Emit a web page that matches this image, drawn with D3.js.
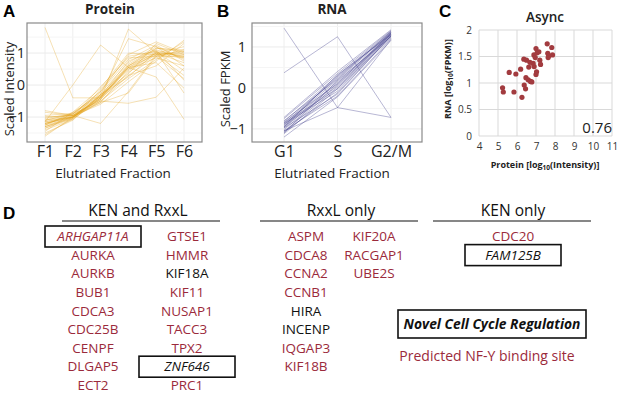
<!DOCTYPE html>
<html>
<head>
<meta charset="utf-8">
<script src="https://cdn.jsdelivr.net/npm/d3@7"></script>
<style>
  body { margin: 0; background: #fff; }
  svg { font-family: "Open Sans", sans-serif; }
</style>
</head>
<body>
<svg id="fig" width="617" height="393"></svg>
<script>
// ---- data ----
var fractions = ["F1", "F2", "F3", "F4", "F5", "F6"]
var proteinLines = [
  [-1.15, -1.00, -0.35, 0.50, 1.00, 0.95],
  [-1.25, -1.02, -0.40, 0.55, 1.05, 0.90],
  [-1.30, -0.98, -0.30, 0.60, 1.10, 0.85],
  [-1.20, -0.95, -0.45, 0.40, 0.95, 1.00],
  [-1.35, -1.05, -0.50, 0.30, 0.90, 1.10],
  [-1.10, -0.92, -0.25, 0.70, 1.20, 0.80],
  [-1.05, -0.90, -0.20, 0.80, 1.25, 0.75],
  [-0.95, -0.88, -0.35, 0.65, 1.15, 1.05],
  [-0.85, -0.95, -0.55, 0.45, 1.00, 1.20],
  [-1.40, -1.08, -0.40, 0.50, 0.85, 0.60],
  [-1.50, -1.10, -0.30, 0.35, 1.30, 0.95],
  [-1.55, -1.05, -0.15, 0.90, 1.05, 0.45],
  [-1.25, -0.85, -0.10, 1.00, 0.95, 0.30],
  [-1.20, -1.00, -0.50, 0.20, 0.80, 1.35],
  [-1.15, -0.97, -0.60, 0.10, 0.75, 1.40],
  [-1.30, -1.02, -0.35, 0.75, 1.10, 0.15],
  [-1.00, -0.95, -0.45, 0.55, 0.70, -0.10],
  [-1.10, -0.90, -0.20, 0.95, 1.35, 1.00],
  [-1.45, -0.85, -0.30, 0.25, 1.05, -0.25],
  [-1.20, -1.00, -0.05, 0.85, 0.90, 0.90],
  [-0.80, -0.95, -0.40, 0.60, 1.15, 1.10],
  [1.80, -0.40, -0.40, 0.60, 1.00, 0.70],
  [-1.15, 0.00, 1.25, 0.55, 0.95, 0.85],
  [-1.00, -0.95, -1.20, -0.20, 0.95, 1.05],
  [-1.20, -1.00, -0.45, 1.75, 1.00, 0.90],
  [-1.30, -1.05, -0.30, 1.45, 1.20, 0.60],
  [-1.25, -0.90, -0.50, -0.57, -0.38, 0.53],
  [-1.10, -1.00, -0.35, 0.55, 0.25, -1.07],
  [-1.35, -1.00, -0.55, -0.25, 0.90, 0.20],
  [-1.60, -1.00, -0.40, 0.30, 0.60, 1.30]
]
var phases = ["G1", "S", "G2/M"]
var rnaLines = [
  [-0.75, 0.35, 1.40], [-0.82, 0.30, 1.38], [-0.86, 0.25, 1.36],
  [-0.90, 0.20, 1.34], [-0.94, 0.15, 1.31], [-0.98, 0.12, 1.29],
  [-1.02, 0.08, 1.27], [-1.06, 0.02, 1.25], [-1.12, -0.02, 1.22],
  [-0.72, 0.40, 1.42], [-0.88, -0.08, 1.31], [-0.98, -0.15, 1.27],
  [-1.05, -0.20, 1.20], [-0.84, 0.10, 1.34], [-0.92, 0.28, 1.33],
  [-0.96, 0.32, 1.30], [-1.10, 0.18, 1.25], [-0.86, -0.02, 1.36],
  [-0.95, 0.05, 1.31], [-0.80, 0.22, 1.38], [-1.08, -0.12, 1.27],
  [-1.20, -0.22, 1.16],
  [1.46, -0.48, -0.72],
  [0.37, 1.25, -0.72],
  [-1.05, -0.48, 1.18]
]
var proteinLog = [5.24, 5.28, 5.59, 5.84, 5.94, 6.19, 6.26, 6.36, 6.50, 6.38, 6.45, 6.47,
  6.59, 6.62, 6.71, 6.68, 6.85, 6.78, 6.89, 6.90, 6.96, 7.00, 7.06, 7.00, 7.03, 7.15,
  7.20, 7.24, 7.59, 7.62, 7.66, 7.64, 7.83, 7.87]
var rnaLog = [0.91, 0.83, 1.20, 0.83, 1.17, 1.26, 0.73, 1.45, 1.43, 0.96, 0.89, 1.10,
  1.06, 1.30, 1.03, 1.39, 1.37, 1.02, 1.53, 1.31, 1.48, 1.65, 1.57, 1.16, 1.21, 1.59,
  1.43, 1.35, 1.74, 1.56, 1.51, 1.48, 1.67, 1.53]
var correlation = "0.76"
var groupTitles = ["KEN and RxxL", "RxxL only", "KEN only"]
var geneColumns = [
  ["ARHGAP11A", "AURKA", "AURKB", "BUB1", "CDCA3", "CDC25B", "CENPF", "DLGAP5", "ECT2"],
  ["GTSE1", "HMMR", "KIF18A", "KIF11", "NUSAP1", "TACC3", "TPX2", "ZNF646", "PRC1"],
  ["ASPM", "CDCA8", "CCNA2", "CCNB1", "HIRA", "INCENP", "IQGAP3", "KIF18B"],
  ["KIF20A", "RACGAP1", "UBE2S"],
  ["CDC20", "FAM125B"]
]
var noNFY = ["KIF18A", "HIRA", "INCENP", "ZNF646", "FAM125B"]
var novelGenes = ["ARHGAP11A", "ZNF646", "FAM125B"]

var red = "#9b2a3b"
var svg = d3.select("#fig")

function panelLetter (x, y, t) {
  svg.append("text").attr("x", x).attr("y", y).text(t)
    .style("font", "bold 17px 'Liberation Sans', Arial, sans-serif")
}

// line panel (A and B share the same look)
function linePanel (cfg) {
  var g = svg.append("g")
  var x = d3.scalePoint().domain(cfg.cats).range(cfg.xr)
  var y = d3.scaleLinear().domain(cfg.yd).range([142, 23])

  // faint grid
  g.selectAll(".vg").data(cfg.cats).join("line")
    .attr("x1", d => x(d)).attr("x2", d => x(d)).attr("y1", 23).attr("y2", 142)
    .attr("stroke", "#eeeeee")
  g.selectAll(".hg").data([-1.5, -1, -0.5, 0, 0.5, 1, 1.5].filter(v => v > cfg.yd[0] && v < cfg.yd[1])).join("line")
    .attr("x1", cfg.box[0]).attr("x2", cfg.box[1]).attr("y1", d => y(d)).attr("y2", d => y(d))
    .attr("stroke", d => d % 1 === 0 ? "#ebebeb" : "#f5f5f5")

  var line = d3.line().x((d, i) => x(cfg.cats[i])).y(d => y(d))
  g.selectAll(".ln").data(cfg.lines).join("path")
    .attr("d", line).attr("fill", "none")
    .attr("stroke", cfg.color).attr("stroke-opacity", cfg.op).attr("stroke-width", 1)

  g.append("rect").attr("x", cfg.box[0]).attr("y", 23)
    .attr("width", cfg.box[1] - cfg.box[0]).attr("height", 119)
    .attr("fill", "none").attr("stroke", "#8a8a8a").attr("stroke-width", 1.2)

  var ya = g.append("g").attr("transform", "translate(" + cfg.yLabX + ",0)")
    .call(d3.axisLeft(y).tickValues([-1, 0, 1]).tickSize(0).tickPadding(0).tickFormat(d3.format("d")))
  ya.select(".domain").remove()
  ya.selectAll("text").style("font-size", "14.5px").style("font-family", "'Open Sans', sans-serif").attr("fill", "#222")

  var xa = g.append("g").attr("transform", "translate(0,142)")
    .call(d3.axisBottom(x).tickSize(0).tickPadding(4))
  xa.select(".domain").remove()
  xa.selectAll("text").style("font-size", "16px").style("font-family", "'Open Sans', sans-serif").attr("fill", "#222")

  g.append("text").attr("x", cfg.xTitle).attr("y", 178).attr("text-anchor", "middle")
    .style("font-size", "13.5px").attr("fill", "#222").text("Elutriated Fraction")
  g.append("text").attr("transform", "translate(" + cfg.yTitle + ",89) rotate(-90)")
    .attr("text-anchor", "middle").style("font-size", "13px").attr("fill", "#222").text(cfg.ylab)
  g.append("text").attr("x", cfg.title[0]).attr("y", 14).attr("text-anchor", "middle")
    .style("font-size", "13.5px").style("font-weight", "bold").attr("fill", "#222").text(cfg.title[1])
}

linePanel({ cats: fractions, lines: proteinLines, xr: [45, 184], yd: [-1.78, 1.94], box: [27, 202],
  color: "#e3a21a", op: 0.32, yLabX: 25, xTitle: 113, yTitle: 14, ylab: "Scaled Intensity", title: [110, "Protein"] })
linePanel({ cats: phases, lines: rnaLines, xr: [284, 391], yd: [-1.32, 1.585], box: [252, 422],
  color: "#3b3788", op: 0.36, yLabX: 246, xTitle: 332, yTitle: 230, ylab: "Scaled FPKM", title: [332, "RNA"] })

panelLetter(3, 17, "A")
panelLetter(217, 17, "B")
panelLetter(439, 17, "C")
panelLetter(3, 219, "D")

// ---- panel C scatter ----
var gc = svg.append("g")
var xC = d3.scaleLinear().domain([4, 11]).range([479, 612])
var yC = d3.scaleLinear().domain([0, 2]).range([136, 30])
gc.selectAll(".vg").data(d3.range(4, 12)).join("line")
  .attr("x1", d => xC(d)).attr("x2", d => xC(d)).attr("y1", yC(2)).attr("y2", yC(0))
  .attr("stroke", "#d9d9d9")
gc.selectAll(".hg").data([0, 0.5, 1, 1.5, 2]).join("line")
  .attr("x1", xC(4)).attr("x2", xC(11)).attr("y1", d => yC(d)).attr("y2", d => yC(d))
  .attr("stroke", "#d9d9d9")
var ycA = gc.append("g").attr("transform", "translate(" + (xC(4) - 4) + ",0)")
  .call(d3.axisLeft(yC).tickValues([0, 0.5, 1, 1.5, 2]).tickSize(0).tickFormat(d => String(d)))
ycA.select(".domain").remove()
ycA.selectAll("text").style("font-size", "10px").style("font-family", "'Open Sans', sans-serif").attr("fill", "#333")
var xcA = gc.append("g").attr("transform", "translate(0," + (yC(0) + 4) + ")")
  .call(d3.axisBottom(xC).tickValues(d3.range(4, 12)).tickSize(0).tickFormat(d => String(d)))
xcA.select(".domain").remove()
xcA.selectAll("text").style("font-size", "10px").style("font-family", "'Open Sans', sans-serif").attr("fill", "#333")
gc.selectAll("circle").data(proteinLog).join("circle")
  .attr("cx", d => xC(d)).attr("cy", (d, i) => yC(rnaLog[i])).attr("r", 2.6)
  .attr("fill", "#a23b3f")
gc.append("text").attr("x", 612).attr("y", 133).attr("text-anchor", "end")
  .style("font-size", "15px").attr("fill", "#222").text(correlation)
gc.append("text").attr("x", 545).attr("y", 22).attr("text-anchor", "middle")
  .style("font-size", "13.5px").style("font-weight", "600").attr("fill", "#222").text("Async")
var xt = gc.append("text").attr("x", 545).attr("y", 168).attr("text-anchor", "middle")
  .style("font-size", "9px").style("font-weight", "bold").attr("fill", "#222")
xt.append("tspan").text("Protein [log")
xt.append("tspan").attr("dy", 2).style("font-size", "6.5px").text("10")
xt.append("tspan").attr("dy", -2).text("(Intensity)]")
var yt = gc.append("text").attr("transform", "translate(451,79) rotate(-90)").attr("text-anchor", "middle")
  .style("font-size", "9px").style("font-weight", "bold").attr("fill", "#222")
yt.append("tspan").text("RNA [log")
yt.append("tspan").attr("dy", 2).style("font-size", "6.5px").text("10")
yt.append("tspan").attr("dy", -2).text("(FPKM)]")

// ---- panel D gene lists ----
var gd = svg.append("g")
var headerX = [138, 341, 513]
var ruleX = [[62, 220], [260, 418], [433, 591]]
groupTitles.forEach(function (t, i) {
  gd.append("text").attr("x", headerX[i]).attr("y", 216).attr("text-anchor", "middle")
    .style("font-size", "15.5px").attr("fill", "#111").text(t)
  gd.append("line").attr("x1", ruleX[i][0]).attr("x2", ruleX[i][1]).attr("y1", 221).attr("y2", 221)
    .attr("stroke", "#111").attr("stroke-width", 1.2)
})
var colX = [93, 187, 306, 374, 513]
geneColumns.forEach(function (col, c) {
  col.forEach(function (gene, r) {
    var cy = 236.5 + r * 18.6
    var novel = novelGenes.indexOf(gene) >= 0
    if (novel) {
      gd.append("rect").attr("x", colX[c] - 48).attr("y", cy - 10.5).attr("width", 96).attr("height", 21)
        .attr("fill", "none").attr("stroke", "#111").attr("stroke-width", 1.6)
    }
    gd.append("text").attr("x", colX[c]).attr("y", cy).attr("dy", "0.35em").attr("text-anchor", "middle")
      .style("font-size", "13.5px").style("font-style", novel ? "italic" : "normal")
      .attr("fill", noNFY.indexOf(gene) >= 0 ? "#111" : red).text(gene)
  })
})
// legend
gd.append("rect").attr("x", 398).attr("y", 310).attr("width", 188).attr("height", 28)
  .attr("fill", "none").attr("stroke", "#111").attr("stroke-width", 1.6)
gd.append("text").attr("x", 492).attr("y", 324).attr("dy", "0.36em").attr("text-anchor", "middle")
  .style("font-size", "13.8px").style("font-weight", "bold").style("font-style", "italic")
  .attr("fill", "#111").text("Novel Cell Cycle Regulation")
gd.append("text").attr("x", 487).attr("y", 356).attr("dy", "0.36em").attr("text-anchor", "middle")
  .style("font-size", "14px").attr("fill", red).text("Predicted NF-Y binding site")
</script>
</body>
</html>
